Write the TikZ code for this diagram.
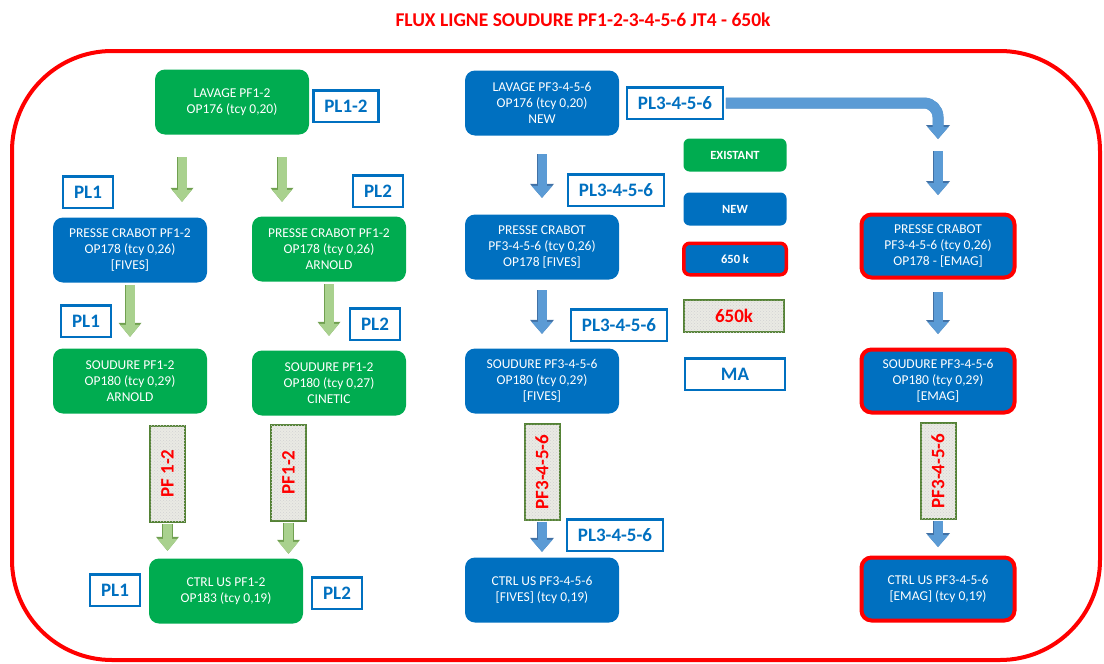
\documentclass[tikz,border=0pt]{standalone}
\usepackage{fontspec}
\setmainfont{Carlito}
\usepackage{graphicx}
\usetikzlibrary{arrows.meta,patterns}

\definecolor{okgreen}{RGB}{0,172,80}
\definecolor{newblue}{RGB}{0,112,192}
\definecolor{lightgreen}{RGB}{169,209,142}
\definecolor{darkgreen}{RGB}{112,160,80}
\definecolor{lightblue}{RGB}{91,155,213}
\definecolor{darkblue}{RGB}{65,113,165}
\definecolor{stonegray}{RGB}{234,234,228}
\definecolor{olivegreen}{RGB}{84,130,53}

\tikzset{
  post/.style={rounded corners=10, minimum width=154, minimum height=65, inner sep=2,
    align=center, text=white, font=\fontsize{13.5}{16}\selectfont},
  oldpost/.style={post, fill=okgreen},
  newpost/.style={post, fill=newblue},
  kpost/.style={newpost, draw=red, line width=4, minimum width=153, minimum height=63},
  plbox/.style={draw=newblue, line width=2.5, fill=white, text=newblue,
    font=\bfseries\fontsize{19}{19}\selectfont, minimum height=31.5, inner xsep=11},
  stone/.style={draw=olivegreen, line width=2, fill=stonegray,
    postaction={pattern=crosshatch dots, pattern color=gray!35},
    text=red, font=\bfseries\fontsize{19}{19}\selectfont,
    minimum width=35, minimum height=96, inner sep=0},
  keybox/.style={rounded corners=6, minimum width=103, minimum height=33, text=white,
    font=\bfseries\fontsize{12.5}{12.5}\selectfont},
  garrow/.style={draw=lightgreen, line width=9, -{Triangle[width=20pt,length=12pt,line width=0pt]},
    preaction={draw=darkgreen, line width=10.5, -{Triangle[width=23pt,length=14pt,line width=0pt]}}},
  barrow/.style={draw=lightblue, line width=9, -{Triangle[width=21pt,length=12pt,line width=0pt]},
    preaction={draw=darkblue, line width=10.5, -{Triangle[width=24pt,length=14pt,line width=0pt]}}}
}

\begin{document}
\begin{tikzpicture}[x=1pt,y=-1pt]
  \useasboundingbox (0,0) rectangle (1104,664);

  \node[text=red, font=\bfseries\fontsize{19.5}{19.5}\selectfont] (title) at (583,20)
    {FLUX LIGNE SOUDURE PF1-2-3-4-5-6 JT4 - 650k};
  \draw[red, line width=4, rounded corners=100] (12,51) rectangle (1100,660);

  % PF1-2 line
  \node[oldpost] (lav12) at (232,102) {LAVAGE PF1-2\\OP176 (tcy 0,20)};
  \node[plbox] (pl12) at (346,106) {PL1-2};
  \node[plbox] (pl1a) at (88,192) {PL1};
  \node[plbox] (pl2a) at (378,191) {PL2};
  \node[newpost] (pr1) at (130,250) {PRESSE CRABOT PF1-2\\OP178 (tcy 0,26)\\{[FIVES]}};
  \node[oldpost] (pr2) at (329,249) {PRESSE CRABOT PF1-2\\OP178 (tcy 0,26)\\ARNOLD};
  \node[plbox] (pl1b) at (86,321) {PL1};
  \node[plbox] (pl2b) at (375,324) {PL2};
  \node[oldpost] (so1) at (130,381) {SOUDURE PF1-2\\OP180 (tcy 0,29)\\ARNOLD};
  \node[oldpost] (so2) at (329,383) {SOUDURE PF1-2\\OP180 (tcy 0,27)\\CINETIC};
  \node[stone] (pf1) at (167.5,473.5) {\rotatebox{90}{PF 1-2}};
  \node[stone] (pf2) at (288.5,472.5) {\rotatebox{90}{PF1-2}};
  \node[oldpost] (ct12) at (226,591) {CTRL US PF1-2\\OP183 (tcy 0,19)};
  \node[plbox] (pl1c) at (115,590) {PL1};
  \node[plbox] (pl2c) at (337,593) {PL2};

  \draw[garrow, shorten <=22.5, shorten >=15.5] ([xshift=-50]lav12.south) -- ([xshift=52]pr1.north);
  \draw[garrow, shorten <=22.5, shorten >=14.5] ([xshift=50]lav12.south) -- ([xshift=-47]pr2.north);
  \draw[garrow, shorten <=2.5, shorten >=11.5] (pr1) -- (so1);
  \draw[garrow, shorten <=2.5, shorten >=14.5] (pr2) -- (so2);
  \draw[garrow, shorten <=1, shorten >=7.5] (pf1) -- ([xshift=-58.5]ct12.north);
  \draw[garrow, shorten <=1, shorten >=4.5] (pf2) -- ([xshift=62.5]ct12.north);

  % PF3-4-5-6 line
  \node[newpost] (lav3) at (542,103) {LAVAGE PF3-4-5-6\\OP176 (tcy 0,20)\\NEW};
  \node[plbox] (pl3a) at (675,103) {PL3-4-5-6};
  \node[plbox] (pl3b) at (616,190) {PL3-4-5-6};
  \node[newpost] (pr3) at (542,247) {PRESSE CRABOT\\PF3-4-5-6 (tcy 0,26)\\OP178 [FIVES]};
  \node[plbox] (pl3c) at (619,325) {PL3-4-5-6};
  \node[newpost] (so3) at (542,381) {SOUDURE PF3-4-5-6\\OP180 (tcy 0,29)\\{[FIVES]}};
  \node[stone] (pf3) at (542,472) {\rotatebox{90}{PF3-4-5-6}};
  \node[plbox] (pl3d) at (615,535) {PL3-4-5-6};
  \node[newpost] (ct3) at (542,590) {CTRL US PF3-4-5-6\\{[FIVES]} (tcy 0,19)};

  \draw[barrow, shorten <=18.5, shorten >=16.5] (lav3) -- (pr3);
  \draw[barrow, shorten <=10.5, shorten >=14.5] (pr3) -- (so3);
  \draw[barrow, shorten <=1, shorten >=5.5] (pf3) -- (ct3);

  % legend
  \node[keybox, fill=okgreen] (kexist) at (735,155) {EXISTANT};
  \node[keybox, fill=newblue] (knew) at (735,209) {NEW};
  \node[keybox, fill=newblue, draw=red, line width=3.5, minimum width=102.5, minimum height=31.5]
    (k650) at (735,259) {650 k};
  \node[stone, minimum width=100, minimum height=32] (kstone) at (734,316) {650k};
  \node[plbox, minimum width=100] (kma) at (735,374) {MA};

  % 650k line
  \coordinate (bend) at (938,139);
  \node[kpost] (pr3e) at (938,246) {PRESSE CRABOT\\PF3-4-5-6 (tcy 0,26)\\OP178 - [EMAG]};
  \node[kpost] (so3e) at (938,381) {SOUDURE PF3-4-5-6\\OP180 (tcy 0,29)\\{[EMAG]}};
  \node[stone] (pf3e) at (938,471) {\rotatebox{90}{PF3-4-5-6}};
  \node[kpost] (ct3e) at (938,589) {CTRL US PF3-4-5-6\\{[EMAG]} (tcy 0,19)};

  \draw[barrow, line width=11, rounded corners=14, shorten <=1.5] (pl3a.east) -| (bend);
  \draw[barrow, shorten <=12, shorten >=17.5] (bend) -- (pr3e);
  \draw[barrow, shorten <=12.5, shorten >=13.5] (pr3e) -- (so3e);
  \draw[barrow, shorten <=1, shorten >=8.5] (pf3e) -- (ct3e);
\end{tikzpicture}
\end{document}
